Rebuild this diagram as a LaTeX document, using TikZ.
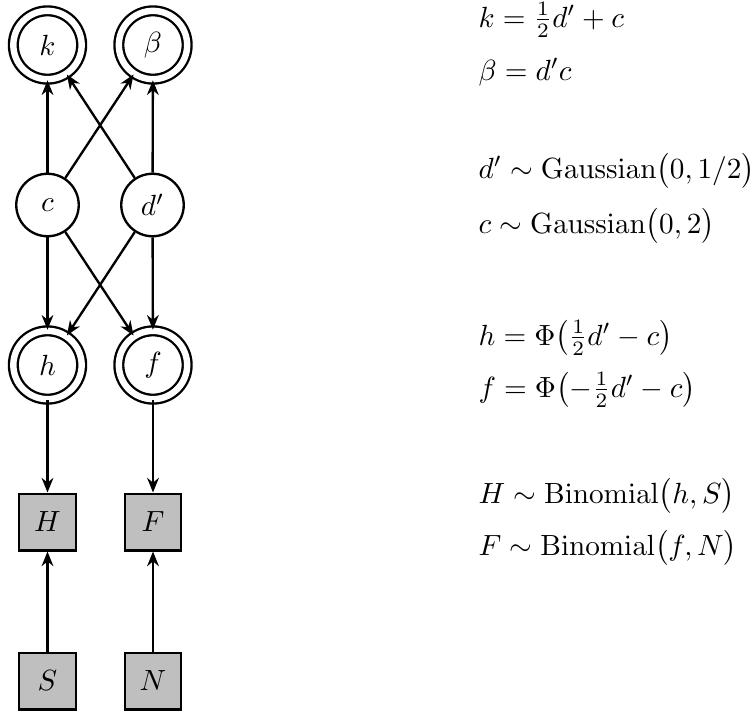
\documentclass[tikz,border=0pt]{standalone}
\usepackage{amsmath}
\usetikzlibrary{arrows.meta}
\begin{document}
\begin{tikzpicture}[x=0.3425pt,y=-0.3425pt,
  every node/.style={inner sep=0pt},
  latent/.style={circle,draw,thick,minimum size=21.4pt},
  derived/.style={circle,draw,thick,double,double distance=2.2pt,minimum size=23.4pt},
  observed/.style={rectangle,draw,thick,fill=black!25,minimum size=19.4pt},
  eqn/.style={anchor=base west},
  conn/.style={-{Stealth[length=5pt,width=4pt,inset=1.6pt]},thick}]
\useasboundingbox (0,0) rectangle (756,713);
\node[derived] (k) at (47.5,45) {$k$};
\node[derived] (b) at (153,45) {$\beta$};
\node[latent] (c) at (47.5,205) {$c$};
\node[latent] (d) at (152.5,205) {$d'$};
\node[derived] (h) at (47.5,365) {$h$};
\node[derived] (f) at (153,365) {$f$};
\node[observed] (H) at (47.5,522) {$H$};
\node[observed] (F) at (153,522) {$F$};
\node[observed] (S) at (47.5,681) {$S$};
\node[observed] (N) at (153,681) {$N$};
\draw[conn] (c) -- (k);
\draw[conn] (c) -- (b);
\draw[conn] (d) -- (k);
\draw[conn] (d) -- (b);
\draw[conn] (c) -- (h);
\draw[conn] (c) -- (f);
\draw[conn] (d) -- (h);
\draw[conn] (d) -- (f);
\draw[conn] (h) -- (H);
\draw[conn] (f) -- (F);
\draw[conn] (S) -- (H);
\draw[conn] (N) -- (F);
\node[eqn] (e1) at (478,27) {$k = \tfrac{1}{2}d' + c$};
\node[eqn] (e2) at (478,80) {$\beta = d'c$};
\node[eqn] (e3) at (478,178) {$d' \sim \mathrm{Gaussian}\bigl(0,1/2\bigr)$};
\node[eqn] (e4) at (478,233) {$c \sim \mathrm{Gaussian}\bigl(0,2\bigr)$};
\node[eqn] (e5) at (478,345) {$h = \Phi\bigl(\tfrac{1}{2}d' - c\bigr)$};
\node[eqn] (e6) at (478,397) {$f = \Phi\bigl(-\tfrac{1}{2}d' - c\bigr)$};
\node[eqn] (e7) at (478,503) {$H \sim \mathrm{Binomial}\bigl(h,S\bigr)$};
\node[eqn] (e8) at (478,555) {$F \sim \mathrm{Binomial}\bigl(f,N\bigr)$};
\end{tikzpicture}
\end{document}
